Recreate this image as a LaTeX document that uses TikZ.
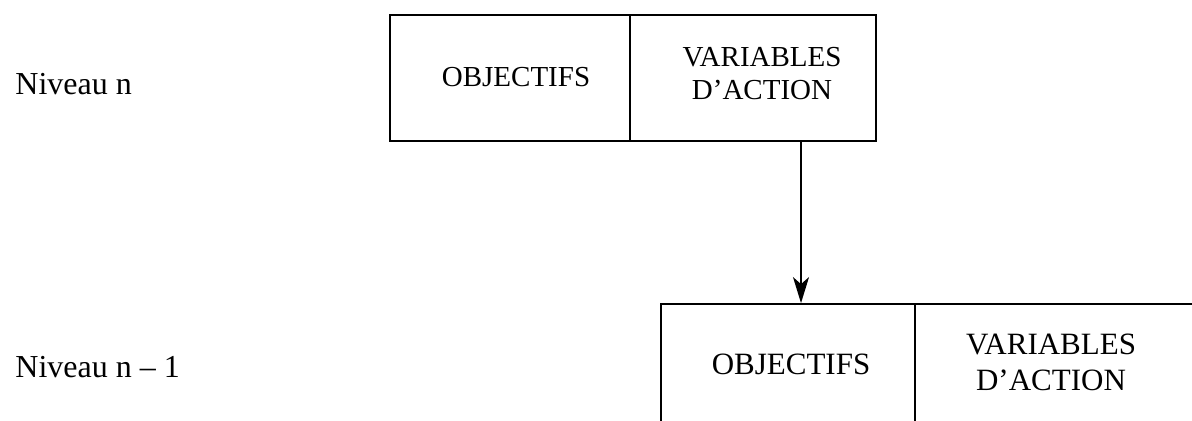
\documentclass[tikz,border=0pt]{standalone}
\usepackage{fontspec}
\setmainfont{Liberation Serif}
\usetikzlibrary{arrows.meta}
\begin{document}
\begin{tikzpicture}[x=0.5pt,y=-0.5pt,
  cell/.style={draw, line width=0.9pt, minimum height=#1, inner sep=0pt},
  toptext/.style={font=\fontsize{14.5}{16.5}\selectfont, align=center, inner sep=0pt},
  lowtext/.style={font=\fontsize{15.5}{18}\selectfont, align=center, inner sep=0pt},
  leveltext/.style={font=\fontsize{16}{19}\selectfont, inner sep=0pt, anchor=base west},
  link/.style={line width=0.7pt, -{Stealth[length=13pt, width=8pt, inset=3.5pt]}}]
  \useasboundingbox (0,0) rectangle (1192,421);
  \clip (0,0) rectangle (1192,421);

  % level n: two cells side by side
  \node[cell=63pt, minimum width=120pt] (obj1) at (510,78) {};
  \node[cell=63pt, minimum width=123pt] (var1) at (753,78) {};
  % level n-1: two cells, running off the right and bottom edges
  \node[cell=78pt, minimum width=127pt] (obj2) at (788,382) {};
  \node[cell=78pt, minimum width=150pt] (var2) at (1065,382) {};

  % cell labels
  \node[toptext, anchor=base] (objt1) at (516,87) {OBJECTIFS};
  \node[toptext] (vart1) at (762,74) {VARIABLES\\D'ACTION};
  \node[lowtext, anchor=base] (objt2) at (791,375) {OBJECTIFS};
  \node[lowtext] (vart2) at (1051,362) {VARIABLES\\D'ACTION};

  % level labels
  \node[leveltext] (lvn) at (15,95) {Niveau n};
  \node[leveltext] (lvm) at (15,378) {Niveau n – 1};

  % action variables of level n drive the objectives of level n-1
  \coordinate (ax) at (801,0);
  \draw[link] (ax |- var1.south) -- (ax |- obj2.north);
\end{tikzpicture}
\end{document}
